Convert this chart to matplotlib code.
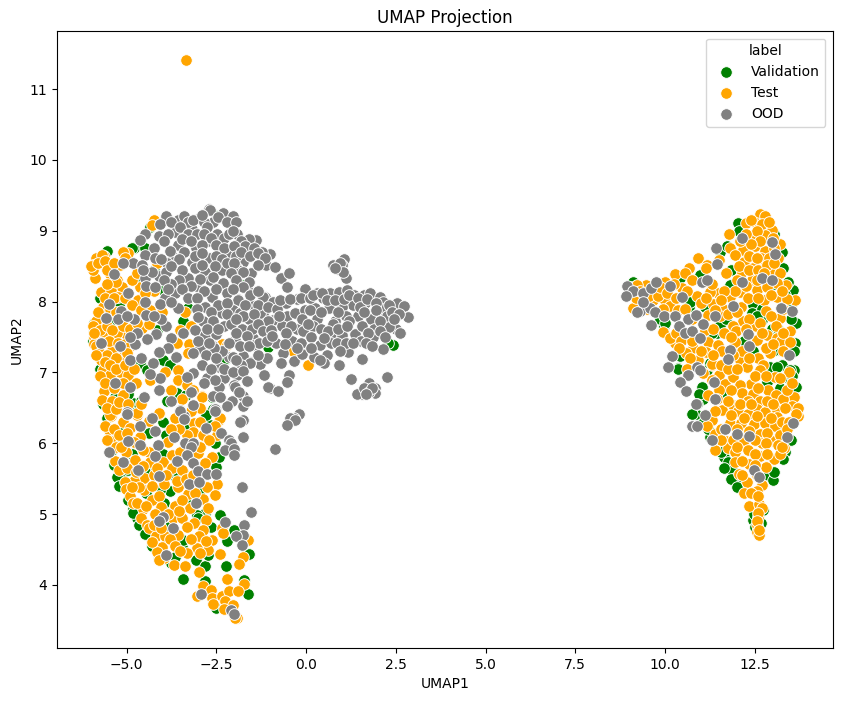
#!/usr/bin/env python3
import matplotlib
matplotlib.use('Agg')
import matplotlib.pyplot as plt

# (UMAP1, UMAP2), left and right cluster apart
val_left = [(-3.42,4.08),(-1.62,3.87),(-2.23,4.27),(-3.06,4.35),(-2.83,4.27),(-2.21,4.62),(-2.02,4.78),(-1.6,4.44),
    (-1.74,4.07),(-2.4,4.99),(-3.46,4.54),(-2.74,4.42),(-3.76,4.31),(-2.52,5.66),(-2.44,5.81),(-2.55,6.01),
    (-2.69,6.26),(-3.9,6.12),(-4.39,6.15),(-5.13,5.53),(-4.95,5.62),(-4.83,5.07),(-4.72,4.95),(-3.97,5.15),
    (-3.79,5.32),(-3.32,5.2),(-2.81,5.01),(-3.05,4.99),(-3.83,4.82),(-3.42,4.64),(-4.16,4.49),(-2.51,3.67),
    (-2.81,4.05),(-5.23,6.05),(-5.27,5.53),(-2.95,5.95),(-5.09,6.16),(-4.3,5.6),(-4.07,5.34),(-3.42,5.6),
    (-2.95,5.34),(-4.79,8.75),(-5.55,8.71),(-4.76,8.34),(-4.25,8.45),(-3.99,8.16),(-5.48,8.04),(-3.42,7.72),
    (-3.28,7.91),(-4.16,7.6),(-4.62,7.14),(-3.99,7.17),(-4.42,7.03),(-3.79,7.1),(-5.63,6.89),(-3.6,6.71),
    (-3.34,6.68),(-4.81,6.57),(-5.32,6.66),(-5.92,7.58),(-3.88,6.59),(-2.63,6.66),(-1.75,8.24),(-2.49,9.21),
    (-1.05,7.36),(-2.26,7.18),(-5.46,7.69),(2.41,7.39),(2.29,7.41),(-2.58,6.49),(-2.3,7.17),
    (-5.8,7.3),(-5.95,7.45),(-5.9,7.7),(-5.65,7.8),(-5.75,7.05),(-5.65,6.55),(-5.55,6.35),(-5.45,6.15),(-5.4,5.9),
    (-5.35,5.7),(-5.2,5.4),(-4.95,5.2),(-4.82,5.02),(-4.65,4.85),(-4.5,4.72),(-4.3,4.55),(-4.1,4.38),
    (-4.5,5.6),(-4.0,5.85),(-3.7,5.55),(-3.15,5.85),(-3.55,5.55),(-4.85,5.85),(-5.05,6.05),(-4.6,6.6),
    (-4.95,6.7),(-4.0,6.3),(-3.3,6.2),(-2.8,6.4),(-4.5,8.75),(-5.75,8.05),(-5.2,7.95),
    (-4.85,8.75),(-4.35,9.05),(-4.9,6.45),(-3.0,4.95),(-2.65,4.82),(-3.65,4.4),(-4.45,5.3)]
val_right = [(11.81,8.23),(10.67,7.93),(11.11,7.93),(9.96,7.65),(12.46,7.95),(12.65,7.86),(12.41,7.84),(13.65,7.7),
    (13.56,8.16),(11.44,7.55),(11.53,8.7),(12.04,9.11),(10.37,7.06),(10.42,7.23),(10.98,8.38),(9.77,8.12),
    (9.12,8.28),(10.7,8.0),(13.3,8.47),(13.44,8.28),(13.2,7.32),(12.92,7.08),(13.25,7.11),(13.62,7.41),
    (11.25,7.13),(12.09,7.41),(12.69,7.74),(12.97,7.62),(11.72,8.78),(10.42,8.33),(11.53,7.67),(13.16,7.62),
    (13.6,7.04),(10.37,7.05),(11.02,6.79),(11.58,6.73),(11.07,6.62),(10.86,6.42),(11.25,6.09),(11.63,5.81),
    (11.76,5.74),(11.86,5.62),(11.95,5.51),(12.14,5.41),(12.88,5.55),(13.34,5.88),(13.48,7.03),(13.44,6.92),
    (13.11,7.08),(12.83,6.87),(13.2,6.78),(12.46,4.92),(12.74,5.06),(11.16,7.03),(13.3,6.63),(13.0,5.48),
    (9.05,8.2),(9.85,7.75),(10.0,7.7),(11.85,8.45),(13.05,8.25),(13.35,8.1),(13.5,7.75),(13.5,7.95),(13.0,7.3),
    (12.45,7.3),(12.7,7.9),(12.55,7.8),(11.7,7.75),(11.3,7.55),(12.2,7.45),(10.95,6.7),(10.9,6.55),(10.75,6.42),
    (11.05,6.28),(11.2,6.2),(13.4,6.95),(13.55,6.95),(13.3,6.2),(13.5,6.05),(13.3,5.78),(13.05,5.6),(11.55,5.88),
    (11.65,5.65),(11.85,5.5),(12.0,5.38),(12.48,5.0),(12.5,4.82),(12.68,4.88),(13.25,8.7),(13.05,8.95),(12.05,9.0),
    (13.6,7.3),(13.65,6.8)]
val_points = val_left + val_right

test_left = [(-3.34,11.41),(-4.25,9.15),(-4.3,9.08),(-5.9,8.5),(-5.85,8.62),(-5.9,7.5),(-5.9,7.4),
    (-5.43,6.38),(-4.70,6.40),(-4.1,6.41),(-5.11,6.30),(-5.5,6.19),(-4.9,6.21),(-4.39,6.31),(-5.43,6.03),(-4.64,6.09),
    (-3.12,6.29),(-3.14,6.16),(-2.42,6.33),(-2.86,6.12),(-3.86,6.02),(-3.32,6.12),(-2.49,6.12),(-5.02,5.87),
    (-5.32,5.75),(-4.78,5.76),(-4.39,5.88),(-4.36,5.73),(-3.99,5.74),(-3.74,5.84),(-3.51,5.88),(-3.74,5.65),
    (-3.0,5.86),(-2.61,5.81),(-2.81,5.72),(-4.51,5.51),(-4.79,5.47),(-5.04,5.46),(-5.01,5.35),(-4.51,5.34),
    (-3.95,5.42),(-3.58,5.38),(-3.6,5.47),(-2.49,5.43),(-2.75,5.38),(-3.28,5.29),(-4.9,5.25),(-4.83,5.16),
    (-4.3,5.2),(-4.09,5.26),(-4.55,5.07),(-4.04,5.1),(-3.65,5.12),(-3.23,5.08),(-2.86,5.21),(-2.55,5.27),
    (-2.72,5.08),(-4.6,4.94),(-4.44,4.85),(-4.37,4.8),(-3.7,4.94),(-3.46,4.94),(-3.11,4.87),(-2.79,4.92),
    (-2.35,4.8),(-2.32,4.73),(-2.88,4.77),(-3.32,4.82),(-4.18,4.69),(-3.93,4.69),(-3.57,4.71),(-2.97,4.69),
    (-2.63,4.64),(-4.02,4.53),(-4.14,4.47),(-3.03,4.52),(-2.72,4.5),(-3.32,4.45),(-2.4,4.44),(-1.61,4.63),
    (-1.75,4.39),(-1.88,4.3),(-3.68,4.28),(-3.37,4.27),(-3.97,4.38),(-2.98,4.18),(-2.21,4.08),(-1.74,4.02),
    (-2.86,3.99),(-2.66,3.93),(-3.05,3.85),(-2.61,3.81),(-2.58,3.73),(-2.35,3.85),(-2.14,3.91),(-1.9,3.92),
    (-2.26,3.77),(-2.05,3.72),(-2.28,3.66),(-1.93,3.54),(-1.98,3.53),
    (-5.62,8.64),(-4.95,8.69),(-5.95,8.52),(-5.88,8.33),(-5.69,8.66),(-4.16,8.55),(-5.18,8.52),(-5.46,8.39),
    (-5.27,8.31),(-5.71,8.13),(-5.43,8.16),(-5.13,8.2),(-4.62,8.2),(-4.25,8.15),(-5.23,8.07),(-4.67,8.02),
    (-5.65,7.93),(-4.35,7.88),(-4.02,7.86),(-3.37,7.86),(-5.85,7.73),(-4.58,7.63),(-4.39,7.68),(-5.65,7.57),
    (-5.02,7.54),(-5.27,7.55),(-5.86,7.37),(-5.41,7.32),(-3.6,7.42),(-3.25,7.4),(-3.28,7.27),(-5.72,7.18),
    (-5.13,7.22),(-5.65,7.03),(-5.18,7.0),(-5.46,6.96),(-4.95,6.96),(-4.36,6.89),(-3.93,7.0),(-3.58,7.03),
    (-3.58,6.89),(-3.32,6.82),(-2.9,6.67),(-5.62,6.74),(-5.69,6.61),(-5.09,6.68),(-5.41,6.59),(-5.46,6.4),
    (-4.7,6.43),(-4.11,6.43),(-3.65,6.35),(-2.41,6.35),(-2.35,7.4),(0.05,7.1),(-0.37,7.3),(-2.21,7.39),(-2.89,6.66),
    (-5.95,8.45),(-6.0,8.5),(-5.8,8.55),(-5.6,8.58),(-5.55,8.45),(-5.35,8.55),(-5.1,8.7),(-5.05,8.62),(-5.3,8.28),
    (-5.55,8.25),(-5.6,8.05),(-5.35,8.05),(-5.05,8.05),(-4.85,8.3),(-4.7,8.4),(-4.5,8.12),(-4.85,7.95),(-4.6,7.88),
    (-5.45,7.9),(-5.3,7.85),(-5.8,7.85),(-5.95,7.65),(-5.75,7.6),(-5.55,7.65),(-5.4,7.6),(-5.1,7.65),(-4.9,7.62),
    (-4.7,7.7),(-5.9,7.55),(-5.7,7.42),(-5.5,7.45),(-5.25,7.42),(-5.05,7.4),(-4.9,7.38),(-5.75,7.28),(-5.55,7.25),
    (-5.3,7.2),(-5.0,7.28),(-5.85,7.25),(-5.6,7.15),(-5.45,7.1),(-5.3,7.05),(-5.05,7.1),(-4.8,7.05),(-5.75,6.95),
    (-5.6,6.85),(-5.35,6.78),(-5.1,6.85),(-4.75,6.85),(-5.55,6.5),(-5.3,6.48),(-5.2,6.58),(-4.95,6.55),(-4.6,6.55),
    (-5.6,6.25),(-5.35,6.2),(-5.2,6.12),(-5.0,6.15),(-4.8,6.02),(-5.55,6.05),(-5.3,5.95),(-5.15,5.95),(-4.55,5.9),
    (-5.2,5.62),(-5.0,5.65),(-4.75,5.6),(-4.55,5.68),(-4.25,5.55),(-4.15,5.65),(-4.3,5.4),(-4.65,5.38),(-4.85,5.38),
    (-4.7,5.15),(-4.45,5.12),(-3.9,5.55),(-3.45,5.62),(-3.35,5.5),(-3.15,5.55),(-3.45,5.2),(-3.1,5.3),(-4.2,5.0),
    (-3.85,5.0),(-3.55,5.05),(-4.25,4.85),(-4.05,4.8),(-3.8,4.65),(-3.65,4.55),(-4.3,4.6),(-3.5,4.48),(-3.2,4.65),
    (-2.95,4.45),(-2.8,4.62),(-4.1,4.35),(-3.5,7.6),(-3.2,7.65),(-3.75,6.75),(-3.45,6.62),(-3.15,6.75),(-2.95,6.5),
    (-3.55,6.2),(-3.75,6.2),(-3.2,6.45),(-2.95,6.3),(-2.55,6.25),(-2.7,6.05),(-2.95,5.95)]
test_right = [(12.65,9.23),(12.79,9.21),(12.25,9.11),(12.53,9.11),(12.97,9.01),(11.78,8.95),(12.79,8.94),(12.46,8.94),
    (13.2,8.81),(11.81,8.76),(12.18,8.73),(11.95,8.66),(12.51,8.78),(12.79,8.71),(12.21,8.56),(12.67,8.61),
    (10.93,8.62),(11.49,8.59),(11.18,8.52),(10.68,8.48),(10.28,8.39),(10.56,8.41),(11.14,8.47),(11.7,8.4),
    (10.74,8.31),(12.14,8.42),(12.46,8.47),(13.02,8.45),(13.2,8.41),(12.41,8.31),(13.36,8.24),(13.11,8.26),
    (10.46,8.19),(10.0,8.28),(9.46,8.24),(9.21,8.24),(12.09,8.13),(12.55,8.17),(11.47,8.12),(11.25,8.13),
    (10.9,8.08),(11.81,8.07),(13.11,8.07),(13.62,8.02),(9.97,8.03),(9.67,8.02),(9.12,7.91),(10.14,7.94),
    (12.76,8.02),(11.33,7.96),(12.11,7.93),(13.39,8.03),(11.58,7.91),(12.81,7.87),(11.21,7.81),(11.53,7.79),
    (12.16,7.72),(13.2,7.77),(12.53,7.65),(13.48,7.59),(9.95,7.57),(11.9,7.65),(11.97,7.58),(12.83,7.53),
    (13.11,7.48),(10.28,7.42),(11.21,7.43),(11.47,7.39),(12.57,7.46),(13.23,7.44),(13.48,7.43),(11.95,7.43),
    (10.77,7.34),(10.58,7.27),(11.14,7.29),(12.92,7.28),(12.6,7.2),(12.09,7.18),(10.93,7.18),(11.3,7.1),
    (12.28,7.07),(12.74,7.11),(10.14,7.48),
    (11.3,7.12),(11.07,6.99),(11.49,6.96),(11.67,6.84),(11.9,6.94),(12.29,7.08),(12.65,7.03),(13.07,6.93),
    (13.45,7.0),(12.4,6.84),(12.09,6.82),(12.88,6.75),(11.21,6.68),(12.14,6.71),(12.46,6.69),(13.08,6.68),
    (11.9,6.54),(11.6,6.47),(12.65,6.59),(13.6,6.65),(13.53,6.53),(13.28,6.63),(12.55,6.49),(12.04,6.45),
    (12.32,6.42),(12.79,6.44),(13.11,6.47),(13.71,6.38),(11.3,6.33),(13.11,6.37),(11.81,6.28),(12.11,6.29),
    (12.48,6.27),(12.79,6.29),(11.16,6.24),(13.07,6.24),(11.39,6.13),(12.65,6.13),(12.97,6.03),(11.69,6.03),
    (12.69,6.0),(11.76,5.94),(13.32,5.94),(11.39,5.9),(11.95,5.87),(12.65,5.82),(13.04,5.78),(11.95,5.74),
    (12.35,5.71),(12.8,5.67),(12.06,5.57),(12.29,5.45),(12.69,5.41),(12.21,5.3),(12.57,5.33),(12.34,5.12),
    (12.62,5.14),(12.69,5.08),(12.6,4.96),(12.57,4.84),(12.57,4.75),(12.62,4.7),
    (12.4,9.15),(12.7,9.1),(12.9,9.12),(12.55,9.0),(12.25,8.95),(12.1,8.85),(12.65,8.85),(13.0,8.9),(13.05,8.75),
    (12.4,8.82),(12.35,8.65),(12.55,8.62),(12.9,8.62),(13.15,8.62),(12.05,8.5),(12.35,8.45),(12.6,8.45),(12.85,8.52),
    (13.05,8.55),(12.75,8.4),(12.0,8.3),(12.25,8.22),(12.55,8.3),(12.85,8.2),(13.25,8.15),(11.95,8.15),(12.3,8.05),
    (12.6,8.05),(12.95,8.1),(11.65,8.15),(11.55,8.02),(11.4,7.88),(11.75,7.82),(12.0,7.85),(12.35,7.75),(12.65,7.7),
    (12.95,7.8),(13.3,7.9),(13.1,7.65),(11.1,7.6),(11.35,7.62),(11.65,7.55),(11.85,7.5),(12.25,7.62),(12.7,7.55),
    (13.3,7.55),(12.15,7.3),(12.35,7.2),(12.8,7.35),(13.0,7.4),(13.3,7.3),(11.6,7.3),(11.35,7.25),(11.9,7.25),
    (11.55,7.1),(11.75,7.05),(12.0,7.05),(12.5,6.95),(12.8,6.95),(13.2,6.92),(11.3,6.9),(11.5,6.75),(11.85,6.75),
    (12.3,6.6),(12.6,6.78),(12.85,6.6),(13.4,6.75),(13.55,6.85),(11.45,6.62),(11.75,6.6),(12.1,6.55),(12.4,6.55),
    (13.0,6.55),(13.35,6.5),(13.7,6.5),(13.65,6.42),(11.4,6.45),(11.85,6.4),(12.2,6.35),(12.55,6.38),(12.95,6.35),
    (13.25,6.3),(13.45,6.3),(11.55,6.2),(12.0,6.2),(12.35,6.18),(12.85,6.15),(13.2,6.12),(13.4,6.2),(11.55,6.05),
    (11.9,6.05),(12.2,6.05),(12.5,6.05),(12.8,6.0),(13.15,5.98),(12.0,5.95),(12.3,5.9),(12.5,5.85),(12.85,5.85),
    (13.2,5.85),(13.25,5.95),(12.15,5.75),(12.5,5.7),(12.15,5.55),(12.55,5.55),(12.4,5.3),(12.6,5.25),(12.6,5.02),
    (12.55,4.9),(12.62,4.78),(9.2,8.05),(9.3,8.15),(9.55,8.08),(9.8,8.08),(9.85,8.2),(10.05,8.12),(10.25,8.25),
    (10.3,8.05),(9.5,7.9),(9.95,7.9),(10.35,7.88),(10.55,7.9),(10.75,7.75),(11.0,7.98),(11.15,8.05),(10.6,8.15),
    (10.3,7.55),(10.45,7.45),(10.75,7.45),(10.4,7.35),(11.0,7.3),(10.7,7.2),(10.6,7.05),(11.3,8.25)]
test_points = test_left + test_right

ood_left = [(-3.91,9.21),(-4.07,9.10),(-3.58,9.15),(-3.40,9.21),(-2.98,9.18),(-2.70,9.31),(-2.31,9.25),(-2.04,9.21),
    (-2.58,9.13),(-3.18,9.03),(-3.65,8.98),(-4.09,8.93),(-4.49,8.95),(-4.64,8.87),(-4.25,8.75),(-4.48,8.66),
    (-4.83,8.55),(-5.09,8.54),(-4.58,8.51),(-3.58,8.80),(-3.06,8.76),(-2.47,8.95),(-1.93,8.96),(-1.39,8.87),
    (-1.6,8.89),(-1.0,8.67),(-1.23,8.70),(-2.16,8.67),(-2.69,8.61),(-3.18,8.56),(-3.70,8.63),(-3.88,8.54),
    (-1.75,8.56),(-1.12,8.52),(-1.53,8.40),(-1.93,8.47),(-2.33,8.44),(-2.79,8.42),(-3.28,8.34),(-4.09,8.36),
    (-4.49,8.33),(-5.34,8.39),(-3.06,8.22),(-3.65,8.12),(-4.46,8.22),(-4.95,8.12),(-3.93,8.05),(-4.07,7.97),
    (-4.49,8.0),(-5.48,7.97),(-5.15,7.87),(-3.56,7.91),(-4.46,7.81),(-4.79,7.75),(-5.23,7.75),(-5.58,7.77),
    (-2.63,8.06),(-2.81,7.93),(-2.35,7.84),(-1.89,8.03),(-1.51,7.95),(-2.05,7.88),(-1.14,8.06),(-0.91,7.98),
    (-1.19,7.83),(-1.56,7.74),(-0.91,7.74),(-1.8,7.61),(-2.3,7.65),(-2.86,7.72),(-3.09,7.60),(-3.42,7.56),
    (-3.9,7.66),(-2.83,7.53),(-2.52,7.54),(-1.47,7.48),(-0.86,7.41),(-3.77,7.49),(-4.18,7.54),(-4.44,7.47),
    (-4.76,7.40),(-5.72,7.41),(-5.18,7.37),(-3.85,7.34),(-4.11,7.29),(-2.95,7.34),(-2.58,7.37),(-2.33,7.30),
    (-1.79,7.22),(-1.08,7.2),(-1.28,7.12),(-1.56,7.15),(-2.16,7.22),(-3.62,7.22),(-4.9,7.17),(-4.27,7.14),
    (-3.14,6.99),(-3.32,6.94),(-2.3,6.92),(-1.93,6.96),(-2.0,6.82),(-1.17,6.96),(-1.0,6.78),(-4.07,6.92),
    (-5.32,6.85),(-4.9,6.79),(-4.11,6.75),(-4.53,6.66),(-3.2,6.73),(-1.79,6.67),(-2.07,6.59),(-3.16,6.54),
    (-2.52,6.49),(-1.76,6.53),(-3.51,6.47),(-3.76,6.59),(-5.0,6.44),(-4.3,6.35),(-3.4,6.38),(-1.75,6.33),
    (-2.69,9.30),(-2.72,8.86),(-2.67,8.61),(-0.86,8.49),(-1.54,8.40),(-1.89,8.45),(-2.81,8.42),(-0.70,8.34),
    (-0.47,8.41),(-0.52,8.2),(-2.69,8.30),(-2.32,8.26),(-1.65,8.19),(-1.19,8.07),(-0.91,7.99),(-0.57,7.98),
    (-1.89,8.02),(-2.05,7.88),(-1.84,7.84),(-1.28,7.84),(-1.58,7.76),(-0.54,7.79),(-0.30,7.84),(-0.68,7.66),
    (-1.19,7.65),(-1.79,7.61),(-1.51,7.62),(-2.52,7.54),(-1.98,7.46),(-1.44,7.39),(-2.35,7.30),(-2.56,7.34),
    (-2.03,7.22),(-1.77,7.23),(-1.08,7.21),(-1.56,7.14),(-0.63,7.27),(-0.84,7.41),(-0.4,7.44),(-0.26,7.62),
    (-0.70,7.14),(-0.34,7.16),(-1.81,7.11),(-2.44,7.08),(-1.16,6.96),(-0.49,6.96),(-0.52,6.87),(-1.07,6.80),
    (-0.79,6.74),(-2.28,6.92),(-2.75,6.92),(-1.98,6.80),(-2.44,6.79),(-1.76,6.67),(-2.21,6.52),(-2.6,6.67),
    (-2.54,6.48),(-0.21,6.42),(-0.33,6.35),(-0.45,6.35),(-0.31,6.33),(-0.54,6.26),
    (-5.0,6.42),(-3.51,6.46),(-3.39,6.34),(-2.53,6.46),(-2.8,6.22),(-4.2,6.17),(-4.64,6.25),(-4.95,6.03),
    (-4.64,5.98),(-5.49,5.87),(-5.1,5.73),(-4.69,5.62),(-4.13,5.97),(-4.2,5.82),(-3.68,6.09),(-3.37,6.01),
    (-3.14,6.0),(-3.2,5.95),(-3.32,5.84),(-3.6,5.75),(-3.16,5.72),(-3.0,5.61),(-2.75,5.57),(-2.52,5.56),
    (-4.09,5.54),(-3.26,5.42),(-2.97,5.45),(-2.37,6.15),(-2.16,6.05),(-2.1,6.0),(-2.26,5.91),(-2.02,5.92),
    (-2.0,5.84),(-1.75,6.09),(-1.77,6.33),(-1.85,6.30),(-0.86,5.92),(-1.79,5.38),(-1.54,5.03),(-3.06,5.16),
    (-2.25,4.89),(-1.72,4.84),(-1.77,4.71),(-1.95,4.69),(-1.79,4.57),(-3.99,4.96),(-4.09,4.90),(-3.71,4.80),
    (-3.91,4.42),(-2.93,3.87),(-2.1,3.64),(-2.0,3.59),
    (-3.75,9.12),(-3.3,9.12),(-3.15,9.15),(-2.85,9.12),(-2.75,9.05),(-2.45,9.2),(-2.2,9.12),(-1.95,9.13),(-2.9,9.22),
    (-3.5,9.05),(-3.85,8.95),(-3.95,8.85),(-3.3,8.95),(-3.05,8.95),(-2.85,8.95),(-2.65,8.9),(-2.3,8.9),(-2.15,8.95),
    (-2.05,9.0),(-1.8,8.85),(-1.7,8.78),(-3.45,8.88),(-3.2,8.85),(-2.9,8.8),(-2.5,8.8),(-2.3,8.75),(-2.0,8.78),
    (-1.45,8.75),(-3.8,8.72),(-3.4,8.7),(-3.1,8.65),(-2.9,8.68),(-2.5,8.65),(-2.35,8.6),(-1.95,8.65),(-1.8,8.7),
    (-1.55,8.65),(-1.35,8.68),(-1.15,8.62),(-3.55,8.6),(-2.2,8.55),(-2.0,8.55),(-1.35,8.52),(-3.9,8.42),(-3.75,8.5),
    (-3.45,8.45),(-3.1,8.48),(-2.9,8.52),(-2.55,8.5),(-2.6,8.35),(-2.1,8.4),(-1.75,8.42),(-1.95,8.3),(-1.6,8.28),
    (-1.75,8.2),(-3.55,8.3),(-3.75,8.25),(-2.95,8.32),(-3.2,8.22),(-3.45,8.18),(-2.85,8.15),(-2.5,8.18),(-2.2,8.12),
    (-2.05,8.18),(-1.55,8.1),(-1.35,8.15),(-3.3,8.05),(-3.75,8.0),(-3.05,8.05),(-2.45,7.95),(-2.2,7.98),(-1.7,7.95),
    (-1.35,7.95),(-1.05,7.92),(-0.8,7.9),(-0.72,8.02),(-3.05,7.9),(-2.65,7.85),(-2.2,7.82),(-1.75,7.8),(-1.45,7.82),
    (-1.05,7.72),(-0.75,7.8),(-3.0,7.78),(-2.6,7.72),(-2.1,7.68),(-1.95,7.75),(-1.35,7.68),(-1.2,7.58),(-0.98,7.6),
    (-2.75,7.62),(-2.45,7.62),(-1.95,7.55),(-1.65,7.52),(-1.3,7.42),(-1.1,7.45),(-3.0,7.45),(-2.7,7.42),(-2.15,7.42),
    (-1.85,7.38),(-1.6,7.38),(-3.15,7.28),(-2.8,7.25),(-2.5,7.2),(-1.95,7.18),(-1.35,7.25),(-2.9,7.1),(-2.65,7.05),
    (-2.3,7.05),(-2.05,7.0),(-1.75,7.02),(-2.55,6.9),(-1.65,6.88),(-2.85,6.85),(-1.88,6.72),(-2.4,6.65),(-1.65,6.6),
    (-4.3,8.42),(-4.2,8.62),(-4.55,8.45),(-4.05,8.6),(-3.95,8.3),(-4.2,8.2),(-3.85,8.18),(-4.05,7.75),(-4.25,7.8),
    (-4.7,7.55),(-4.9,7.5),(-5.0,7.8),(-4.6,7.2),(-4.35,6.98)]
ood_mid = [(1.06,8.60),(0.88,8.46),(0.74,8.52),(1.1,8.33),(-0.03,8.18),(0.3,8.12),(0.67,8.12),(0.92,8.13),(1.13,8.16),
    (1.34,8.09),(1.6,8.09),(1.78,8.12),(2.06,8.07),(0.48,8.05),(-0.26,8.04),(2.54,7.98),(2.74,7.94),(2.15,8.0),
    (1.64,7.98),(1.32,7.95),(0.99,7.93),(0.25,7.91),(0.65,7.91),(-0.03,7.88),(2.11,7.89),(2.85,7.78),(2.25,7.80),
    (2.5,7.62),(2.62,7.55),(1.81,7.76),(1.46,7.79),(1.1,7.8),(0.81,7.72),(0.3,7.76),(0.18,7.65),(0.76,7.68),
    (1.9,7.62),(2.32,7.64),(0.73,7.55),(1.36,7.54),(0.99,7.53),(1.87,7.50),(0.39,7.39),(0.70,7.41),(-0.14,7.42),
    (1.53,7.45),(1.18,7.29),(2.13,7.33),(1.57,7.19),(0.58,7.25),(0.23,7.22),(-0.11,7.26),(0.50,7.13),(0.92,7.10),
    (1.24,6.91),(2.26,6.94),(1.74,6.85),(1.92,6.78),(1.55,6.70),(1.41,6.70),(1.92,6.71),
    (-0.45,8.03),(-0.15,8.05),(0.1,8.05),(0.18,8.1),(0.45,8.12),(0.58,8.02),(0.8,8.02),(1.05,8.03),(1.2,8.1),
    (1.45,8.05),(1.5,7.92),(1.7,8.03),(1.95,7.98),(2.3,7.95),(2.4,7.85),(2.6,7.82),(0.1,7.88),(0.42,7.85),(0.88,7.85),
    (1.2,7.72),(1.62,7.85),(1.95,7.88),(2.05,7.72),(2.45,7.75),(-0.12,7.75),(-0.42,7.65),(-0.1,7.58),(0.05,7.68),
    (0.42,7.62),(0.6,7.58),(0.9,7.62),(1.15,7.65),(1.55,7.65),(1.72,7.55),(2.05,7.58),(2.2,7.5),(-0.55,7.55),
    (-0.95,7.52),(0.15,7.5),(0.5,7.48),(0.85,7.42),(1.12,7.42),(1.3,7.42),(1.68,7.42),(1.85,7.38),(-0.6,7.4),
    (-0.25,7.35),(0.15,7.35),(0.95,7.3),(0.4,7.18),(1.62,6.78),(1.75,6.72),(1.85,6.78),(1.68,6.7),(1.0,8.52),
    (0.95,8.55),(1.02,8.42),(0.8,8.48)]
ood_right = [(8.95,8.22),(9.12,8.15),(8.9,8.08),(9.4,8.12),(9.6,8.19),(9.75,8.27),(10.14,8.22),(10.48,8.06),(9.3,7.87),
    (9.21,7.86),(9.58,7.91),(9.72,7.85),(9.4,8.0),(9.97,7.79),(10.28,7.8),(9.6,7.67),(10.39,7.66),(10.65,7.75),
    (10.85,7.81),(10.56,7.56),(10.74,7.59),(11.07,7.69),(10.98,7.49),(11.39,7.8),(11.89,7.94),(11.02,8.27),
    (11.16,8.31),(11.41,8.76),(11.44,8.53),(12.15,8.9),(12.99,8.84),(13.06,8.67),(12.15,8.28),(12.69,8.33),
    (12.97,8.31),(13.22,7.91),(13.55,7.87),(12.3,7.54),(12.33,7.38),(11.81,7.32),(11.76,7.19),(10.19,7.23),
    (10.09,7.08),(10.9,7.08),(13.46,7.25),(10.63,6.96),(10.42,6.86),(10.58,6.74),(10.98,7.03),(11.37,6.86),
    (11.39,6.62),(10.86,6.55),(11.1,6.4),(10.76,6.24),(10.9,6.25),(11.32,6.05),(11.67,6.2),(12.0,6.13),
    (12.35,6.1),(13.56,6.29),(13.39,6.09),(12.49,5.62),(12.62,5.52)]
ood_points = ood_left + ood_mid + ood_right

labels = ['Validation', 'Test', 'OOD']
colors = ['green', 'orange', 'gray']

fig = plt.figure(figsize=(8.42, 7.01), dpi=100)
ax = fig.add_axes([57/842, 1 - 648/701, 776/842, 617/701])
for pts, lab, col in zip([val_points, test_points, ood_points], labels, colors):
    xs = [p[0] for p in pts]
    ys = [p[1] for p in pts]
    ax.scatter(xs, ys, s=70, c=col, edgecolors='white', linewidths=0.67, label=lab)

ax.set_xlim(-6.94, 14.68)
ax.set_ylim(3.11, 11.82)
ax.set_xlabel('UMAP1')
ax.set_ylabel('UMAP2')
ax.set_title('UMAP Projection')
ax.legend(title='label', loc='upper right', borderaxespad=0.55)
fig.savefig('out.png', dpi=100)
